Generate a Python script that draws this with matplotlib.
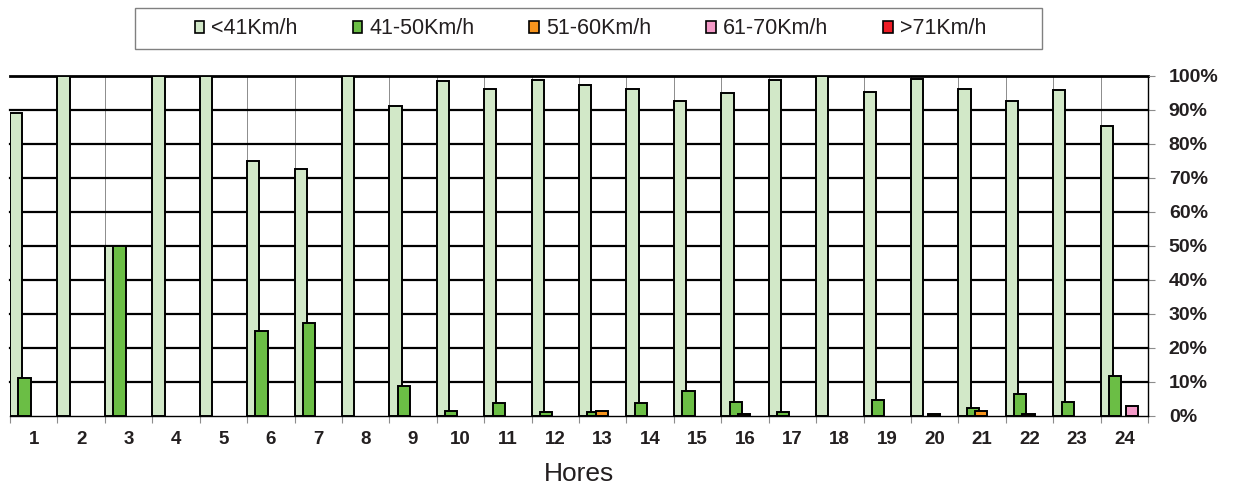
import matplotlib
matplotlib.use('Agg')
import matplotlib.pyplot as plt
from matplotlib.patches import Rectangle, Patch

hours = [str(i) for i in range(1, 25)]
series_names = ['<41Km/h', '41-50Km/h', '51-60Km/h', '61-70Km/h', '>71Km/h']
s_lt41 = [89, 100, 50, 100, 100, 75, 72.7, 100, 91.3, 98.6, 96.1, 98.7,
          97.4, 96.2, 92.6, 95.0, 98.9, 100, 95.2, 99.2, 96.2, 92.7, 96.0, 85.3]
s_41_50 = [11, 0, 50, 0, 0, 25, 27.3, 0, 8.7, 1.3, 3.8, 1.2,
           1.2, 3.6, 7.3, 4.0, 1.0, 0, 4.6, 0, 2.2, 6.5, 4.0, 11.8]
s_51_60 = [0, 0, 0, 0, 0, 0, 0, 0, 0, 0, 0, 0,
           1.3, 0, 0, 0.6, 0, 0, 0, 0.6, 1.5, 0.6, 0, 0]
s_61_70 = [0, 0, 0, 0, 0, 0, 0, 0, 0, 0, 0, 0,
           0, 0, 0, 0, 0, 0, 0, 0, 0, 0, 0, 2.8]
s_gt71 = [0] * 24
yticks = list(range(0, 101, 10))
ytick_labels = [f'{v}%' for v in yticks]

series = [s_lt41, s_41_50, s_51_60, s_61_70, s_gt71]
colors = ['#D2E8C8', '#6BBE45', '#F7941D', '#F49AC8', '#EE1C25']

W, H = 1235, 486
fig = plt.figure(figsize=(W / 100, H / 100), dpi=100)
plt.rcParams['font.family'] = ['Liberation Sans', 'DejaVu Sans']

ax = fig.add_axes([10 / W, 1 - 415.7 / H, 1138 / W, (415.7 - 76) / H])
ax.set_xlim(0, 24)
ax.set_ylim(0, 100)

bw = 0.26
step = 0.176
off = 0.0
for k, vals in enumerate(series):
    idx = [i for i, v in enumerate(vals) if v > 0]
    ax.bar([i + off + k * step for i in idx], [vals[i] for i in idx],
           width=bw, align='edge', color=colors[k], edgecolor='black',
           linewidth=1.4, zorder=3 + k)

# horizontal grid lines
for v in yticks[1:]:
    ax.axhline(v, color='black', lw=1.6 if v < 100 else 2.0, zorder=1, clip_on=False)
# vertical thin gray lines at category boundaries
for i in range(1, 24):
    ax.axvline(i, color='#8c8c8c', lw=0.7, zorder=0.5)

for s in ['left', 'top']:
    ax.spines[s].set_visible(False)
ax.spines['bottom'].set_color('black')
ax.spines['bottom'].set_linewidth(1.0)
ax.spines['right'].set_color('black')
ax.spines['right'].set_linewidth(1.0)

ax.yaxis.tick_right()
ax.set_yticks(yticks)
ax.set_yticklabels(ytick_labels, fontsize=14, fontweight='bold', color='#231F20')
ax.tick_params(axis='y', which='major', direction='out', length=5, width=0.8,
               color='#8c8c8c', pad=10)

ax.set_xticks([i + 0.5 for i in range(24)])
ax.set_xticklabels(hours, fontsize=13.5, fontweight='bold', color='#231F20')
ax.tick_params(axis='x', which='major', length=0, pad=11)
ax.set_xticks(list(range(0, 25)), minor=True)
ax.tick_params(axis='x', which='minor', direction='out', length=5, width=0.8,
               color='#8c8c8c')

ax.set_xlabel('Hores', fontsize=19, labelpad=10, color='#231F20')

# legend box
fig.patches.append(Rectangle((135 / W, 1 - 49 / H), 907 / W, 41 / H,
                             transform=fig.transFigure, facecolor='white',
                             edgecolor='#808080', lw=1.0))
handles = [Patch(facecolor=c, edgecolor='black', linewidth=1.2) for c in colors]
fig.legend(handles, series_names, loc='center', bbox_to_anchor=(590.5 / W, 1 - 29 / H),
           ncol=5, frameon=False, fontsize=15.5, handlelength=0.45, handleheight=0.5,
           handletextpad=0.33, columnspacing=2.55, labelcolor='#231F20')

fig.savefig('out.png', dpi=100)
